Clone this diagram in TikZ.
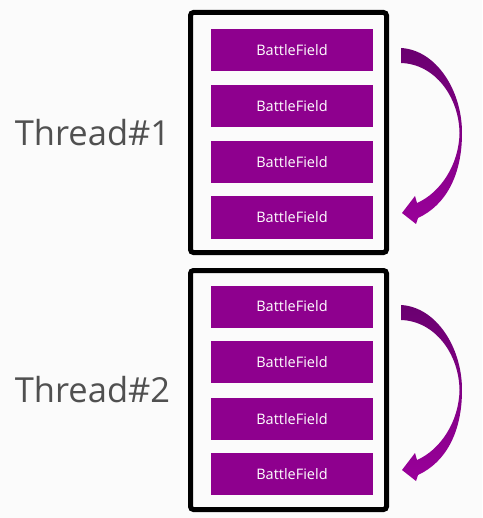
\documentclass[tikz,border=0pt]{standalone}
\usepackage{fontspec}
\setmainfont{Open Sans}
\begin{document}
\begin{tikzpicture}[x=1pt,y=-1pt,
  framebox/.style={draw=black,line width=5pt,rounded corners=3pt},
  bfbox/.style={fill=bfpurple,minimum width=162pt,minimum height=42pt,inner sep=0pt,text=white,font=\fontsize{14.5}{16}\selectfont},
  threadlbl/.style={text=threadgray,font=\fontsize{34.5}{40}\selectfont,anchor=center,inner sep=0pt},
  bendarrow/.style={top color=arrowtop,bottom color=arrowbot,draw=none}]
\definecolor{bfpurple}{HTML}{8E008E}
\definecolor{threadgray}{HTML}{505050}
\definecolor{arrowtop}{HTML}{6A0070}
\definecolor{arrowbot}{HTML}{9A009A}
\fill[fill={rgb,255:red,251;green,251;blue,251}] (0,0) rectangle (482,518);
\useasboundingbox (0,0) rectangle (482,518);
% frames
\draw[framebox] (190.5,12.5) rectangle (386.5,252.5);
\draw[framebox] (190.5,270.5) rectangle (386.5,509.5);
% battlefield boxes
\node[bfbox] (a1) at (292,50.5) {BattleField};
\node[bfbox] (a2) at (292,106) {BattleField};
\node[bfbox] (a3) at (292,162) {BattleField};
\node[bfbox] (a4) at (292,217.5) {BattleField};
\node[bfbox] (b1) at (292,306.5) {BattleField};
\node[bfbox] (b2) at (292,362) {BattleField};
\node[bfbox] (b3) at (292,419) {BattleField};
\node[bfbox] (b4) at (292,474) {BattleField};
% labels
\node[threadlbl] (t1) at (92.5,133) {Thread\#1};
\node[threadlbl] (t2) at (92.5,390) {Thread\#2};
% arrows
\foreach \dy in {0,257}{
\begin{scope}[yshift=-\dy pt]
\path[bendarrow] (401,48) .. controls (436,50) and (462,90) .. (462,133)
  .. controls (462,175) and (446,205) .. (418,218)
  -- (416,224) -- (402,213) -- (415,196) -- (417,203)
  .. controls (440,193) and (459,165) .. (459.5,133)
  .. controls (459,97) and (435,64) .. (401,63) -- cycle;
\end{scope}}
\end{tikzpicture}
\end{document}
